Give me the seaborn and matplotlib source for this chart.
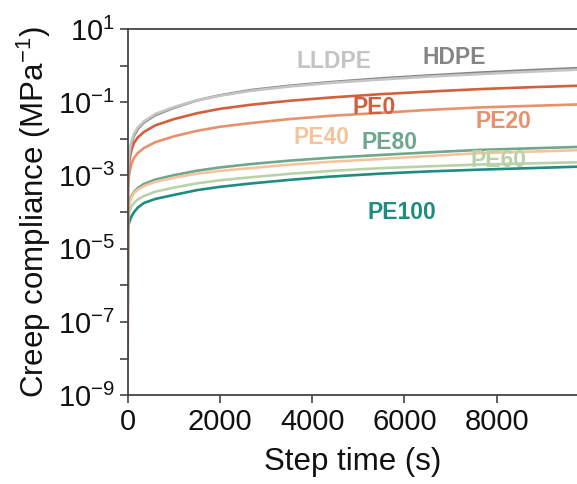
import numpy as np
import pandas as pd
import matplotlib
matplotlib.use("Agg")
import matplotlib.pyplot as plt
import seaborn as sns

# ---- data (compliance values as log10) ----
step_time = [0, 5, 10, 20, 30, 50, 80, 137, 220, 353, 600, 1004, 1500, 2000,
             2652, 3500, 4400, 5470, 6500, 7640, 8700, 9740]

log_hdpe  = [-6.60, -3.03, -2.83, -2.63, -2.49, -2.32, -2.13, -1.91, -1.73, -1.55, -1.35,
             -1.15, -0.95, -0.81, -0.67, -0.55, -0.45, -0.35, -0.27, -0.19, -0.125, -0.07]
log_lldpe = [-6.70, -2.97, -2.77, -2.57, -2.44, -2.27, -2.08, -1.86, -1.69, -1.52, -1.32,
             -1.13, -0.95, -0.82, -0.69, -0.57, -0.47, -0.38, -0.30, -0.23, -0.165, -0.11]
log_pe0   = [-8.00, -3.30, -3.05, -2.80, -2.66, -2.49, -2.31, -2.11, -1.96, -1.81, -1.63,
             -1.46, -1.30, -1.18, -1.07, -0.96, -0.87, -0.78, -0.71, -0.64, -0.59, -0.55]
log_pe20  = [-7.90, -3.50, -3.30, -3.10, -2.99, -2.85, -2.69, -2.52, -2.385, -2.25, -2.09,
             -1.93, -1.78, -1.67, -1.57, -1.46, -1.37, -1.29, -1.21, -1.14, -1.10, -1.06]
log_pe40  = [-7.20, -4.15, -4.03, -3.90, -3.82, -3.71, -3.60, -3.48, -3.385, -3.29, -3.17,
             -3.06, -2.95, -2.875, -2.80, -2.705, -2.625, -2.55, -2.47, -2.39, -2.35, -2.31]
log_pe60  = [-7.10, -4.30, -4.20, -4.10, -4.03, -3.94, -3.85, -3.75, -3.655, -3.56, -3.44,
             -3.33, -3.215, -3.13, -3.05, -2.955, -2.875, -2.80, -2.75, -2.70, -2.67, -2.64]
log_pe80  = [-7.00, -4.10, -3.975, -3.85, -3.77, -3.66, -3.56, -3.45, -3.34, -3.23, -3.11,
             -2.99, -2.87, -2.78, -2.69, -2.595, -2.515, -2.44, -2.37, -2.30, -2.26, -2.22]
log_pe100 = [-6.90, -4.50, -4.43, -4.35, -4.29, -4.22, -4.12, -4.00, -3.875, -3.75, -3.64,
             -3.53, -3.40, -3.31, -3.22, -3.12, -3.03, -2.95, -2.89, -2.84, -2.80, -2.76]

series_names = ["LLDPE", "HDPE", "PE0", "PE20", "PE40", "PE60", "PE80", "PE100"]
series_logs = [log_lldpe, log_hdpe, log_pe0, log_pe20, log_pe40, log_pe60, log_pe80, log_pe100]

palette = {
    "LLDPE": "#c4c4c4",
    "HDPE": "#858585",
    "PE0": "#d2603c",
    "PE20": "#e8916d",
    "PE40": "#f6c49c",
    "PE60": "#b9d2a9",
    "PE80": "#6ea68e",
    "PE100": "#1f8c7f",
}

# label positions (step time, compliance)
label_t = [4480, 7070, 5350, 8150, 4200, 8030, 5680, 5940]
label_y = [1.26, 1.70, 0.070, 0.029, 0.0112, 0.0026, 0.0081, 0.000100]

y_exponents = list(range(-9, 2))
x_ticks = [0, 2000, 4000, 6000, 8000]

# ---- figure ----
sns.set_style("ticks")
plt.rcParams["font.family"] = ["Liberation Sans", "DejaVu Sans"]
plt.rcParams["mathtext.fontset"] = "custom"
plt.rcParams["mathtext.rm"] = "Liberation Sans"
plt.rcParams["mathtext.it"] = "Liberation Sans:italic"
plt.rcParams["mathtext.bf"] = "Liberation Sans:bold"

rows = []
for name, logs in zip(series_names, series_logs):
    for t, lv in zip(step_time, logs):
        rows.append({"t": t, "J": 10.0 ** lv, "series": name})
df = pd.DataFrame(rows)

fig = plt.figure(figsize=(5.77, 4.84), dpi=100)
ax = fig.add_axes([0.2213, 0.1835, 0.7787, 0.7565])

sns.lineplot(data=df, x="t", y="J", hue="series", hue_order=series_names[::-1],
             palette=palette, estimator=None, sort=True, linewidth=1.9,
             legend=False, ax=ax)

ax.set_yscale("log")
ax.set_ylim(1e-9, 1e1)
ax.set_xlim(0, 9740)

ax.set_yticks([10.0 ** e for e in y_exponents])
ax.set_yticklabels([r"$\mathregular{10^{%d}}$" % e if e % 2 != 0 else "" for e in y_exponents])
ax.yaxis.set_minor_locator(matplotlib.ticker.NullLocator())
ax.set_xticks(x_ticks)
ax.set_xticklabels([str(v) for v in x_ticks])

ax.tick_params(axis="both", which="major", direction="out", length=6, width=1.2,
               labelsize=21, color="#444444", labelcolor="#111111", pad=3)

for s in ["left", "bottom", "top"]:
    ax.spines[s].set_linewidth(1.3)
    ax.spines[s].set_color("#444444")
ax.spines["right"].set_visible(False)

ax.set_xlabel("Step time (s)", fontsize=22.5, labelpad=8, color="#111111")
ax.set_ylabel(r"Creep compliance (MPa$^{-1}$)", fontsize=22.5, labelpad=4, color="#111111")

for name, t, y in zip(series_names, label_t, label_y):
    ax.text(t, y, name, color=palette[name], fontsize=16.5, fontweight="bold",
            ha="center", va="center")

fig.savefig("out.png", dpi=100)
